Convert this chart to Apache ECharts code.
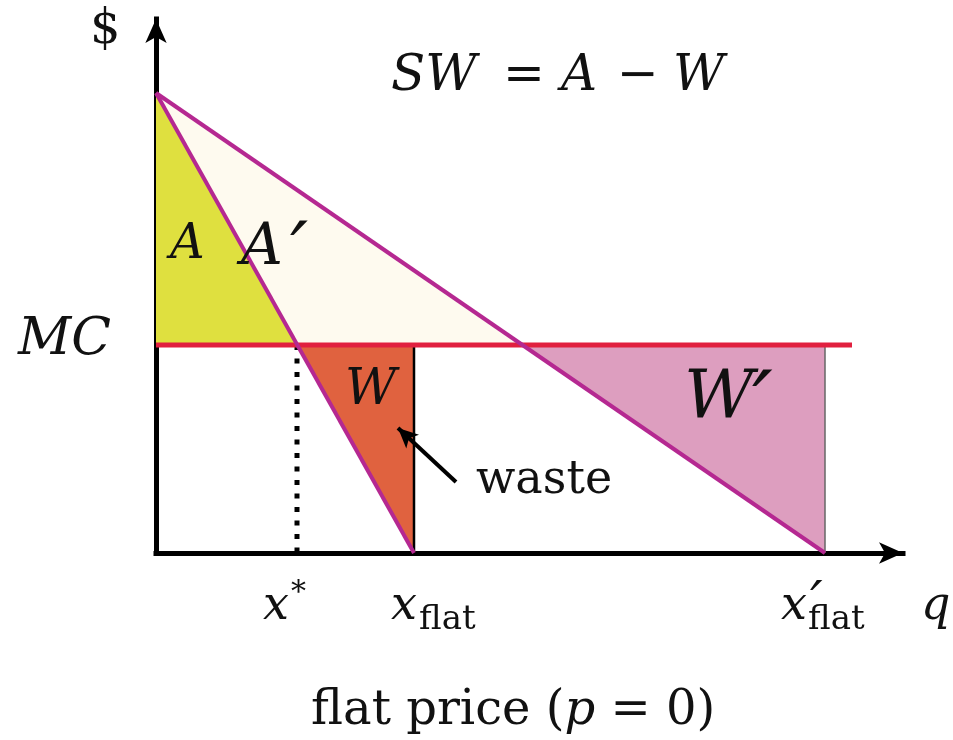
<!DOCTYPE html>
<html>
<head>
<meta charset="utf-8">
<title>flat price</title>
<script src="https://cdn.jsdelivr.net/npm/echarts@6/dist/echarts.min.js"></script>
<style>
  html, body { margin: 0; padding: 0; background: #fff; }
  #chart { width: 953px; height: 740px; }
</style>
</head>
<body>
<div id="chart"></div>
<script>
// values (q on x, $ on y)
const choke = 46          // demand intercept on the $ axis
const mc = 20.8           // marginal cost
const xStar = 14.1        // steep demand meets MC
const xFlat = 25.8        // steep demand hits q axis
const xCross = 36.6       // flat demand meets MC
const xFlatP = 66.9       // flat demand hits q axis
const mcEnd = 69.6        // where the MC line stops

const demandSteep = [[0, choke], [xFlat, 0]]
const demandFlat = [[0, choke], [xFlatP, 0]]
const mcLine = [[0, mc], [mcEnd, mc]]
const starLine = [[xStar, mc], [xStar, 0]]
const flatLine = [[xFlat, mc], [xFlat, 0]]
const flatPLine = [[xFlatP, mc], [xFlatP, 0]]
const wasteArrow = [[30.0, 7.1], [24.2, 12.5]]

// triangles: x1, y1, x2, y2, x3, y3
const areaA = [0, choke, 0, mc, xStar, mc]
const areaA2 = [0, choke, xStar, mc, xCross, mc]
const areaW = [xStar, mc, xFlat, mc, xFlat, 0]
const areaW2 = [xCross, mc, xFlatP, mc, xFlatP, 0]

const serif = "'DejaVu Serif', serif"

const chart = echarts.init(document.getElementById('chart'))

function tri(name, vals, color) {
  return {
    name: name,
    type: 'custom',
    silent: true,
    z: 1,
    encode: { x: [0, 2, 4], y: [1, 3, 5] },
    data: [vals],
    renderItem(params, api) {
      const pts = [0, 1, 2].map(i => api.coord([api.value(i * 2), api.value(i * 2 + 1)]))
      return { type: 'polygon', shape: { points: pts }, style: { fill: color } }
    }
  }
}

function seg(name, data, style, z) {
  return {
    name: name,
    type: 'line',
    data: data,
    symbol: 'none',
    silent: true,
    z: z || 3,
    lineStyle: style
  }
}

function txt(text, x, y, size, italic) {
  return {
    type: 'text',
    x: x,
    y: y,
    z: 100,
    silent: true,
    style: {
      text: text,
      fontFamily: serif,
      fontSize: size,
      fontStyle: italic ? 'italic' : 'normal',
      fill: '#111',
      align: 'left',
      verticalAlign: 'middle'
    }
  }
}

const option = {
  animation: false,
  backgroundColor: '#fff',
  grid: {
    left: 156,
    right: 50,
    top: 19,
    bottom: 187,
    containLabel: false,
    outerBoundsMode: 'none'
  },
  xAxis: {
    type: 'value',
    min: 0,
    max: 74.7,
    axisLine: {
      show: true,
      symbol: ['none', 'arrow'],
      symbolSize: [16, 24],
      lineStyle: { color: '#000', width: 5, cap: 'square' }
    },
    axisTick: { show: false },
    axisLabel: { show: false },
    splitLine: { show: false }
  },
  yAxis: {
    type: 'value',
    min: 0,
    max: 53.4,
    axisLine: {
      show: true,
      symbol: ['none', 'arrow'],
      symbolSize: [16, 24],
      lineStyle: { color: '#000', width: 5, cap: 'square' }
    },
    axisTick: { show: false },
    axisLabel: { show: false },
    splitLine: { show: false }
  },
  series: [
    tri('A', areaA, '#dfe03f'),
    tri("A'", areaA2, '#fefaef'),
    tri('W', areaW, '#e0623f'),
    tri("W'", areaW2, '#dd9ebf'),
    seg('x*', starLine, { color: '#000', width: 5, type: [5, 8.5] }),
    seg('xflat', flatLine, { color: '#000', width: 2.5 }),
    seg("xflat'", flatPLine, { color: '#666', width: 1.5 }),
    seg('MC', mcLine, { color: '#e1203f', width: 5 }, 4),
    seg('steep demand', demandSteep, { color: '#b52891', width: 4 }, 5),
    seg('flat demand', demandFlat, { color: '#b52891', width: 4 }, 5),
    {
      name: 'waste',
      type: 'line',
      data: [],
      silent: true,
      markLine: {
        silent: true,
        symbol: ['none', 'arrow'],
        symbolSize: [14, 20],
        label: { show: false },
        lineStyle: { color: '#000', width: 4, type: 'solid' },
        data: [[{ coord: wasteArrow[0] }, { coord: wasteArrow[1] }]]
      }
    }
  ],
  graphic: [
    txt('$', 90, 31, 48, false),
    txt('SW', 391, 77, 50, true),
    txt('=', 503, 77, 50, false),
    txt('A', 561, 77, 50, true),
    txt('\u2212', 617, 77, 50, false),
    txt('W', 673, 77, 50, true),
    txt('MC', 18, 340, 52, true),
    txt('A', 170, 246, 48, true),
    txt('A', 241, 249, 58, true),
    txt('\u2032', 290, 258, 80, true),
    txt('W', 345, 391, 50, true),
    txt('W', 684, 400, 68, true),
    txt('\u2032', 752, 412, 92, true),
    txt('waste', 476, 481, 46, false),
    txt('x', 263, 607, 46, true),
    txt('*', 291, 593, 30, false),
    txt('x', 391, 607, 46, true),
    txt('flat', 419, 620, 34, false),
    txt('x', 781, 607, 46, true),
    txt('\u2032', 810, 606, 56, true),
    txt('flat', 808, 620, 34, false),
    txt('q', 921, 607, 46, true),
    {
      type: 'text',
      x: 311,
      y: 712,
      z: 100,
      silent: true,
      style: {
        text: '{r|flat price (}{i|p}{r| = 0)}',
        align: 'left',
        verticalAlign: 'middle',
        rich: {
          r: { fontFamily: serif, fontSize: 48, fill: '#111' },
          i: { fontFamily: serif, fontSize: 48, fontStyle: 'italic', fill: '#111' }
        }
      }
    }
  ]
}

chart.setOption(option)
</script>
</body>
</html>
